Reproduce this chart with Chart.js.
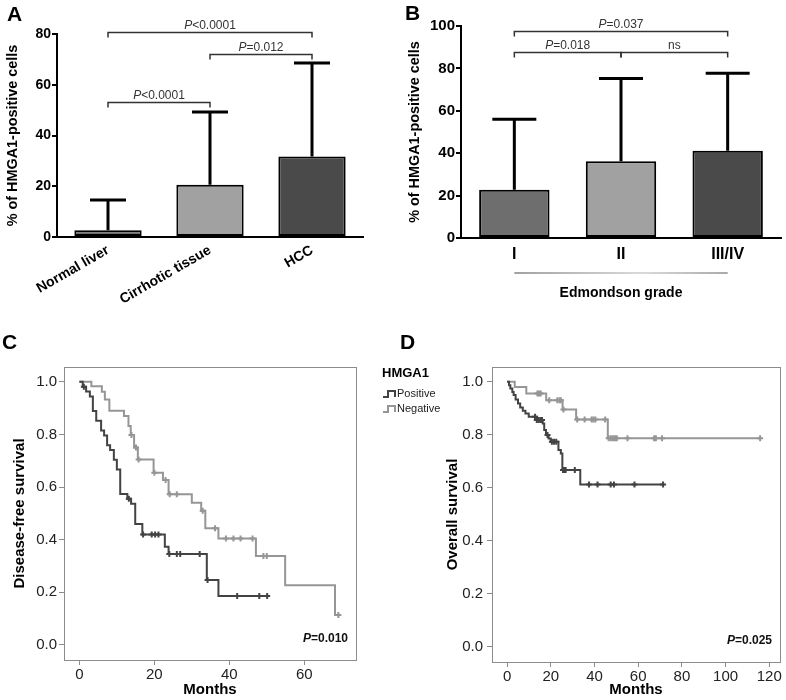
<!DOCTYPE html>
<html>
<head>
<meta charset="utf-8">
<script src="https://cdn.jsdelivr.net/npm/chart.js@4.4.1/dist/chart.umd.min.js"></script>
<style>
  body { margin: 0; background: #fff; }
  #wrap { position: relative; width: 786px; height: 700px; overflow: hidden; }
  canvas { position: absolute; }
  .panel { position: absolute; font: bold 21px "Liberation Sans", Arial, sans-serif; line-height: 1; color: #000; }
</style>
</head>
<body>
<div id="wrap">
  <canvas id="chartC" width="480" height="370" style="left:0;top:330px"></canvas>
  <canvas id="chartA" width="393" height="320" style="left:0;top:0"></canvas>
  <canvas id="chartB" width="393" height="320" style="left:393px;top:0"></canvas>
  <canvas id="chartD" width="393" height="370" style="left:393px;top:330px"></canvas>
  <div class="panel" style="left:7px;top:3px">A</div>
  <div class="panel" style="left:405px;top:2px">B</div>
  <div class="panel" style="left:2px;top:331px">C</div>
  <div class="panel" style="left:400px;top:331px">D</div>
</div>
<script>
const FONT = '"Liberation Sans", Arial, Helvetica, sans-serif';
Chart.defaults.font.family = FONT;
Chart.defaults.color = '#000';

// A: tissue types
const tissueLabels = ['Normal liver', 'Cirrhotic tissue', 'HCC'];
const tissueMeans = [2.7, 20.6, 31.7];
const tissueSdTop = [14.6, 49.3, 68.6];
const tissueTicks = [0, 20, 40, 60, 80];
const tissueCmpFrom = [0, 1, 0];
const tissueCmpTo = [1, 2, 2];
const tissueCmpLevel = [53.2, 72.3, 80.8];
const tissueCmpText = ['P<0.0001', 'P=0.012', 'P<0.0001'];

// B: Edmondson grade
const gradeLabels = ['I', 'II', 'III/IV'];
const gradeMeans = [22.8, 36.2, 41.2];
const gradeSdTop = [56.0, 75.2, 77.7];
const gradeTicks = [0, 20, 40, 60, 80, 100];
const gradeCmpFrom = [0, 1, 0];
const gradeCmpTo = [1, 2, 2];
const gradeCmpLevel = [87.6, 87.6, 97.6];
const gradeCmpText = ['P=0.018', 'ns', 'P=0.037'];

const barGrays = ['#6e6e6e', '#a1a1a1', '#4a4a4a'];

// C: disease-free survival (months, survival after each event)
const dfsPosTimes = [0.9, 1.8, 2.8, 3.6, 4.5, 5.8, 6.6, 7.4, 8.2, 9.2, 10.0, 10.9, 12.8, 13.8, 14.9, 16.8, 22.8, 23.8, 34.0, 37.1];
const dfsPosSurv = [0.981, 0.963, 0.944, 0.889, 0.852, 0.815, 0.796, 0.759, 0.741, 0.704, 0.667, 0.574, 0.556, 0.537, 0.46, 0.42, 0.373, 0.346, 0.247, 0.186];
const dfsPosCens = [1.2, 13.2, 17.0, 19.3, 20.2, 21.1, 24.0, 26.0, 26.9, 32.1, 34.2, 42.1, 48.0, 50.1];
const dfsNegTimes = [3.2, 6.0, 6.8, 8.0, 11.9, 13.1, 13.7, 14.6, 15.6, 19.8, 22.3, 23.8, 30.0, 32.5, 33.6, 37.1, 47.1, 54.9, 68.2];
const dfsNegSurv = [0.983, 0.962, 0.933, 0.89, 0.87, 0.832, 0.798, 0.75, 0.705, 0.654, 0.627, 0.573, 0.54, 0.51, 0.443, 0.405, 0.338, 0.227, 0.114];
const dfsNegCens = [13.9, 15.1, 15.8, 20.0, 23.0, 24.1, 26.0, 32.9, 36.2, 39.1, 41.1, 43.0, 46.2, 49.1, 50.0, 69.1];
const dfsMonthTicks = [0, 20, 40, 60];

// D: overall survival
const osPosTimes = [0.9, 1.5, 2.4, 3.0, 3.9, 5.0, 6.0, 7.2, 8.4, 9.9, 13.5, 16.3, 17.0, 17.8, 19.0, 20.0, 23.5, 24.6, 25.3, 33.5];
const osPosSurv = [0.987, 0.975, 0.962, 0.95, 0.933, 0.918, 0.903, 0.891, 0.881, 0.868, 0.856, 0.843, 0.818, 0.799, 0.786, 0.774, 0.743, 0.73, 0.667, 0.613];
const osPosCens = [12.8, 13.6, 14.4, 15.2, 16.0, 18.5, 20.5, 21.5, 22.5, 25.6, 26.2, 26.8, 31.0, 37.5, 41.4, 47.4, 48.9, 58.3, 71.4];
const osNegTimes = [3.5, 8.8, 17.9, 25.4, 31.6, 46.1];
const osNegSurv = [0.981, 0.956, 0.931, 0.896, 0.858, 0.787];
const osNegCens = [13.9, 14.6, 15.4, 19.3, 23.0, 24.0, 24.6, 25.8, 32.1, 35.5, 38.7, 39.5, 40.4, 44.9, 46.5, 47.5, 48.5, 49.4, 50.2, 55.1, 67.3, 68.1, 70.9, 115.8];
const osMonthTicks = [0, 20, 40, 60, 80, 100, 120];

const survTicks = [0, 0.2, 0.4, 0.6, 0.8, 1.0];
const DARK = '#434343';
const LIGHT = '#969696';

// draws "P" in italic and the rest upright
function drawPText(ctx, text, x, y, size, weight, align) {
  const head = text.startsWith('P') ? 'P' : '';
  const rest = text.slice(head.length);
  ctx.font = `italic ${weight} ${size}px ${FONT}`;
  const wHead = ctx.measureText(head).width;
  ctx.font = `${weight} ${size}px ${FONT}`;
  const wRest = ctx.measureText(rest).width;
  const left = align === 'right' ? x - wHead - wRest : x - (wHead + wRest) / 2;
  ctx.textAlign = 'left';
  ctx.textBaseline = 'alphabetic';
  ctx.font = `italic ${weight} ${size}px ${FONT}`;
  ctx.fillText(head, left, y);
  ctx.font = `${weight} ${size}px ${FONT}`;
  ctx.fillText(rest, left + wHead, y);
}

const errorBars = {
  id: 'errorBars',
  afterDatasetsDraw(chart, args, o) {
    const { ctx, scales: { x, y } } = chart;
    ctx.save();
    ctx.strokeStyle = '#000';
    ctx.lineWidth = 3;
    o.top.forEach((v, i) => {
      const cx = x.getPixelForValue(i);
      const yTop = y.getPixelForValue(v);
      ctx.beginPath();
      ctx.moveTo(cx, y.getPixelForValue(o.mean[i]));
      ctx.lineTo(cx, yTop);
      ctx.moveTo(cx - o.cap / 2, yTop);
      ctx.lineTo(cx + o.cap / 2, yTop);
      ctx.stroke();
    });
    // significance brackets
    ctx.strokeStyle = '#333';
    ctx.fillStyle = '#333';
    ctx.lineWidth = 1.5;
    o.from.forEach((f, k) => {
      const x1 = x.getPixelForValue(f), x2 = x.getPixelForValue(o.to[k]);
      const yy = Math.round(y.getPixelForValue(o.level[k])) + 0.5;
      ctx.beginPath();
      ctx.moveTo(x1, yy + 5);
      ctx.lineTo(x1, yy);
      ctx.lineTo(x2, yy);
      ctx.lineTo(x2, yy + 5);
      ctx.stroke();
      drawPText(ctx, o.text[k], (x1 + x2) / 2, yy - 4, 12, 'normal', 'center');
    });
    if (o.underline) {
      const x1 = x.getPixelForValue(0), x2 = x.getPixelForValue(o.from.length - 1);
      const yy = x.top + 35;
      const g = ctx.createLinearGradient(x1, 0, x2, 0);
      g.addColorStop(0, '#444');
      g.addColorStop(0.6, '#b5b5b5');
      g.addColorStop(1, '#555');
      ctx.strokeStyle = g;
      ctx.lineWidth = 1.2;
      ctx.beginPath();
      ctx.moveTo(x1, yy);
      ctx.lineTo(x2, yy);
      ctx.stroke();
    }
    ctx.restore();
  }
};

function barChart(id, labels, means, sdTop, ticks, cmp, cfg) {
  return new Chart(document.getElementById(id), {
    type: 'bar',
    data: {
      labels: labels,
      datasets: [{
        data: means,
        backgroundColor: barGrays,
        borderColor: '#000',
        borderWidth: 2,
        borderSkipped: false,
        barPercentage: 0.66,
        categoryPercentage: 1
      }]
    },
    options: {
      responsive: false,
      animation: false,
      layout: { padding: { top: cfg.top, right: cfg.right, left: 0, bottom: 0 } },
      plugins: {
        legend: { display: false },
        tooltip: { enabled: false },
        errorBars: { mean: means, top: sdTop, cap: cfg.cap, from: cmp[0], to: cmp[1], level: cmp[2], text: cmp[3], underline: cfg.underline }
      },
      scales: {
        x: {
          grid: { display: false, drawTicks: false },
          border: { color: '#000', width: 2 },
          ticks: {
            color: '#000',
            font: { weight: 'bold', size: cfg.xFont },
            minRotation: cfg.rot, maxRotation: cfg.rot,
            autoSkip: false,
            padding: cfg.xPad
          },
          title: cfg.xTitle ? { display: true, text: cfg.xTitle, font: { weight: 'bold', size: 14 }, padding: { bottom: 18, top: 0 } } : { display: false },
          afterFit: s => { s.height = cfg.xHeight; }
        },
        y: {
          min: 0,
          max: ticks[ticks.length - 1],
          afterBuildTicks: s => { s.ticks = ticks.map(v => ({ value: v })); },
          grid: { drawOnChartArea: false, drawTicks: true, tickLength: 5, color: '#000', lineWidth: 2 },
          border: { color: '#000', width: 2 },
          ticks: { color: '#000', font: { weight: 'bold', size: cfg.yFont }, padding: 1 },
          title: { display: true, text: '% of HMGA1-positive cells', font: { weight: 'bold', size: 14.4 }, padding: { top: cfg.titlePad } },
          afterFit: s => { s.width = cfg.yWidth; }
        }
      }
    },
    plugins: [errorBars]
  });
}

barChart('chartA', tissueLabels, tissueMeans, tissueSdTop, tissueTicks,
  [tissueCmpFrom, tissueCmpTo, tissueCmpLevel, tissueCmpText],
  { top: 34, right: 30, cap: 36, xFont: 14, yFont: 14, rot: 30, xPad: 5, xHeight: 83, yWidth: 57, titlePad: 4 });

barChart('chartB', gradeLabels, gradeMeans, gradeSdTop, gradeTicks,
  [gradeCmpFrom, gradeCmpTo, gradeCmpLevel, gradeCmpText],
  { top: 26, right: 5, cap: 44, xFont: 16, yFont: 15, rot: 0, xPad: 7, xHeight: 82, yWidth: 68, titlePad: 13, underline: true, xTitle: 'Edmondson grade' });

// Kaplan-Meier helpers
function stepPoints(times, surv, end) {
  const pts = [{ x: 0, y: 1 }];
  times.forEach((t, i) => pts.push({ x: t, y: surv[i] }));
  pts.push({ x: end, y: surv[surv.length - 1] });
  return pts;
}
function survAt(times, surv, t) {
  let s = 1;
  times.forEach((tt, i) => { if (tt <= t) s = surv[i]; });
  return s;
}
function censorPoints(times, surv, cens) {
  return cens.map(t => ({ x: t, y: survAt(times, surv, t) }));
}

const kmFrame = {
  id: 'kmFrame',
  afterDraw(chart, args, o) {
    const { ctx, chartArea: a } = chart;
    ctx.save();
    ctx.strokeStyle = '#8c8c8c';
    ctx.lineWidth = 1;
    ctx.strokeRect(Math.round(a.left) + 0.5, Math.round(a.top) + 0.5, Math.round(a.right - a.left), Math.round(a.bottom - a.top));
    ctx.fillStyle = '#111';
    drawPText(ctx, o.p, a.right - 8, a.bottom - 18, 12, 'bold', 'right');
    if (o.legend) {
      const ds = chart.data.datasets;
      const lx = a.right + 26;
      ctx.font = `bold 13px ${FONT}`;
      ctx.textAlign = 'left';
      ctx.textBaseline = 'middle';
      ctx.fillStyle = '#000';
      ctx.fillText(o.legend, lx, a.top + 6);
      [0, 1].forEach(i => {
        const yy = a.top + 27 + i * 15;
        ctx.strokeStyle = ds[i].borderColor;
        ctx.lineWidth = 2;
        ctx.beginPath();
        ctx.moveTo(lx + 1, yy + 3);
        ctx.lineTo(lx + 6, yy + 3);
        ctx.lineTo(lx + 6, yy - 3);
        ctx.lineTo(lx + 13, yy - 3);
        ctx.lineTo(lx + 13, yy + 3);
        ctx.stroke();
        ctx.font = `11px ${FONT}`;
        ctx.fillStyle = '#222';
        ctx.fillText(ds[i].label, lx + 15, yy);
      });
    }
    ctx.restore();
  }
};

function kmChart(id, pos, neg, monthTicks, cfg) {
  const end = (t, c) => Math.max(t[t.length - 1], c[c.length - 1]);
  const line = (label, color, d) => ({
    label, data: stepPoints(d[0], d[1], end(d[0], d[2])), showLine: true, stepped: 'before',
    borderColor: color, borderWidth: 2, pointRadius: 0, fill: false
  });
  const marks = (label, color, d) => ({
    label, data: censorPoints(d[0], d[1], d[2]), showLine: false,
    pointStyle: 'cross', pointRadius: 3, pointBorderWidth: 2, pointBorderColor: color, borderColor: color
  });
  return new Chart(document.getElementById(id), {
    type: 'scatter',
    data: {
      datasets: [
        line('Positive', DARK, pos),
        line('Negative', LIGHT, neg),
        marks('Positive censored', DARK, pos),
        marks('Negative censored', LIGHT, neg)
      ]
    },
    options: {
      responsive: false,
      animation: false,
      layout: { padding: { top: 37, right: cfg.right, left: 0, bottom: 0 } },
      plugins: {
        legend: { display: false },
        tooltip: { enabled: false },
        kmFrame: { p: cfg.p, legend: cfg.legend }
      },
      scales: {
        x: {
          type: 'linear', min: cfg.xMin, max: cfg.xMax,
          afterBuildTicks: s => { s.ticks = monthTicks.map(v => ({ value: v })); },
          grid: { drawOnChartArea: false, drawTicks: true, tickLength: 5, color: '#8c8c8c' },
          border: { display: false },
          ticks: { color: '#222', font: { size: 15 }, padding: 1 },
          title: { display: true, text: 'Months', font: { weight: 'bold', size: 15 }, padding: { top: 0, bottom: 1 } },
          afterFit: s => { s.height = cfg.xHeight; }
        },
        y: {
          min: -0.057, max: 1.056,
          afterBuildTicks: s => { s.ticks = survTicks.map(v => ({ value: v })); },
          grid: { drawOnChartArea: false, drawTicks: true, tickLength: 5, color: '#8c8c8c' },
          border: { display: false },
          ticks: { color: '#222', font: { size: 15 }, padding: cfg.yPad, callback: v => v.toFixed(1) },
          title: { display: true, text: cfg.yTitle, font: { weight: 'bold', size: 15 }, padding: { top: cfg.titlePad } },
          afterFit: s => { s.width = cfg.yWidth; }
        }
      }
    },
    plugins: [kmFrame]
  });
}

kmChart('chartC', [dfsPosTimes, dfsPosSurv, dfsPosCens], [dfsNegTimes, dfsNegSurv, dfsNegCens], dfsMonthTicks,
  { right: 124, xMin: -4.1, xMax: 73.8, xHeight: 40, yWidth: 64, yPad: 2, titlePad: 11,
    yTitle: 'Disease-free survival', p: 'P=0.010', legend: 'HMGA1' });

kmChart('chartD', [osPosTimes, osPosSurv, osPosCens], [osNegTimes, osNegSurv, osNegCens], osMonthTicks,
  { right: 2, xMin: -6.9, xMax: 124.9, xHeight: 38, yWidth: 99, yPad: 4, titlePad: 51,
    yTitle: 'Overall survival', p: 'P=0.025' });
</script>
</body>
</html>
